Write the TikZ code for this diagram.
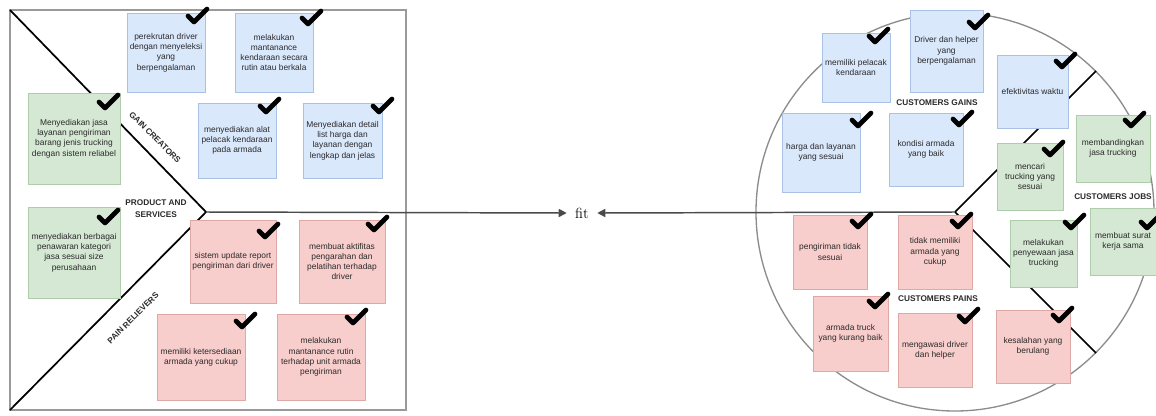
\documentclass[tikz,border=0pt]{standalone}
\usepackage{fontspec}
\setsansfont{Liberation Sans}
\usetikzlibrary{arrows.meta}
\definecolor{bfill}{HTML}{DAE8FC}
\definecolor{bline}{HTML}{A9C1E4}
\definecolor{gfill}{HTML}{D5E8D4}
\definecolor{gline}{HTML}{AFCDAB}
\definecolor{pfill}{HTML}{F8CECC}
\definecolor{pline}{HTML}{DDA8A6}
\definecolor{txt}{HTML}{2A2A2A}
\definecolor{frame}{HTML}{9A9A9A}
\definecolor{circ}{HTML}{8C8C8C}
\definecolor{conn}{HTML}{4A4A4A}
\begin{document}
\begin{tikzpicture}[x=0.75pt,y=-0.75pt,
  card/.style={rectangle, draw, line width=0.45pt, inner sep=1pt, align=center,
    font=\sffamily\fontsize{6.3}{7.7}\selectfont, text=txt},
  sz/.style 2 args={minimum width=#1*0.75pt, minimum height=#2*0.75pt},
  gain/.style={card, fill=bfill, draw=bline},
  job/.style={card, fill=gfill, draw=gline},
  pain/.style={card, fill=pfill, draw=pline},
  lab/.style={font=\sffamily\bfseries\fontsize{6.2}{9.4}\selectfont, text=txt, inner sep=0pt, align=center},
  sqline/.style={draw=frame, line width=1.1pt},
  diag/.style={draw=black, line width=1.3pt},
  circline/.style={draw=circ, line width=1pt},
  connline/.style={draw=conn, line width=1.1pt, -{Triangle[length=6pt,width=6pt]}},
  tick/.pic={\draw[line width=3.5pt, line cap=round, line join=round] (-9,-1) -- (-3,5) -- (10,-8);}
]
\useasboundingbox (0,0) rectangle (1156,415);

% ---------- structure lines ----------
\coordinate (tl) at (10,10);
\coordinate (apex) at (206,212);
\coordinate (bl) at (10,410);
\coordinate (cc) at (955,212);
\coordinate (ur) at (1096,71);
\coordinate (lr) at (1096,353);

\node[font=\fontsize{11}{13}\selectfont, inner sep=0pt, minimum width=22.5pt, minimum height=10pt] (fit) at (582,213) {fit};

\draw[sqline] (10,10) rectangle (406,410);
\draw[diag] (tl) -- (apex) -- (bl);
\draw[connline] (apex) -- (fit.west);

\draw[circline] (cc) circle[radius=149.25pt];
\draw[diag, line width=1.2pt] (cc) -- (ur);
\draw[diag, line width=1.2pt] (cc) -- (lr);
\draw[connline] (cc) -- (fit.east);

% ---------- left: value map ----------
\node[gain, sz={78}{79}] (b1) at (166,52.5) {perekrutan driver\\dengan menyeleksi\\yang\\berpengalaman};
\node[gain, sz={78}{79}] (b2) at (274,52.5) {melakukan\\mantanance\\kendaraan secara\\rutin atau berkala};
\node[gain, sz={78}{75}] (b3) at (237,140.5) {menyediakan alat\\pelacak kendaraan\\pada armada};
\node[gain, sz={79}{75}] (b4) at (342.5,140.5) {Menyediakan detail\\list harga dan\\layanan dengan\\lengkap dan jelas};
\node[job, sz={92}{91}] (g1) at (74,138.5) {Menyediakan jasa\\layanan pengiriman\\barang jenis trucking\\dengan sistem reliabel};
\node[job, sz={92}{91}] (g2) at (74,252.5) {menyediakan berbagai\\penawaran kategori\\jasa sesuai size\\perusahaan};
\node[pain, sz={86}{83}] (p1) at (233,261.5) {sistem update report\\pengiriman dari driver};
\node[pain, sz={86}{83}] (p2) at (342,261.5) {membuat aktifitas\\pengarahan dan\\pelatihan terhadap\\driver};
\node[pain, sz={88}{86}] (p3) at (201,357) {memiliki ketersediaan\\armada yang cukup};
\node[pain, sz={88}{86}] (p4) at (321,357) {melakukan\\mantanance rutin\\terhadap unit armada\\pengiriman};

\node[lab, rotate=-45] (gc) at (155,137.5) {GAIN CREATORS};
\node[lab, rotate=45] (pr) at (133,318) {PAIN RELIEVERS};
\node[lab] (ps) at (156,208.5) {PRODUCT AND\\SERVICES};

% ---------- right: customer profile ----------
\node[gain, sz={68}{69}] (r1) at (856,67.5) {memiliki pelacak\\kendaraan};
\node[gain, sz={73}{82}] (r2) at (946.5,51) {Driver dan helper\\yang\\berpengalaman};
\node[gain, sz={71}{73}] (r3) at (1032.5,91.5) {efektivitas waktu};
\node[gain, sz={78}{79}] (r4) at (821,152.5) {harga dan layanan\\yang sesuai};
\node[gain, sz={74}{73}] (r5) at (926,149.5) {kondisi armada\\yang baik};
\node[job, sz={66}{67}] (rg1) at (1030,176.5) {mencari\\trucking yang\\sesuai};
\node[job, sz={74}{67}] (rg2) at (1113,148.5) {membandingkan\\jasa trucking};
\node[job, sz={67}{67}] (rg3) at (1043.5,253.5) {melakukan\\penyewaan jasa\\trucking};
\node[job, sz={66}{67}] (rg4) at (1123,241.5) {membuat surat\\kerja sama};
\node[pain, sz={74}{74}] (rp1) at (830,252) {pengiriman tidak\\sesuai};
\node[pain, sz={74}{74}] (rp2) at (935,252) {tidak memiliki\\armada yang\\cukup};
\node[pain, sz={75}{75}] (rp3) at (850.5,333.5) {armada truck\\yang kurang baik};
\node[pain, sz={74}{74}] (rp4) at (935,350) {mengawasi driver\\dan helper};
\node[pain, sz={74}{73}] (rp5) at (1033,346.5) {kesalahan yang\\berulang};

\node[lab] (cg) at (937,103) {CUSTOMERS GAINS};
\node[lab] (cj) at (1113,197) {CUSTOMERS JOBS};
\node[lab] (cp) at (938,299) {CUSTOMERS PAINS};

% ---------- check marks ----------
\foreach \p in {(197,17),(311,19),(269,107),(382,107),(108,103),(108,218),
  (268,232),(377,225),(245,322),(356,318),
  (878,37),(978,23),(1065,62),(861,121),(962,120),(1053,150),(1134,121),
  (1074,223),(1150,223),(861,222),(961,222),(878,302),(968,317),(1062,316)}
  \pic at \p {tick};
\end{tikzpicture}
\end{document}
